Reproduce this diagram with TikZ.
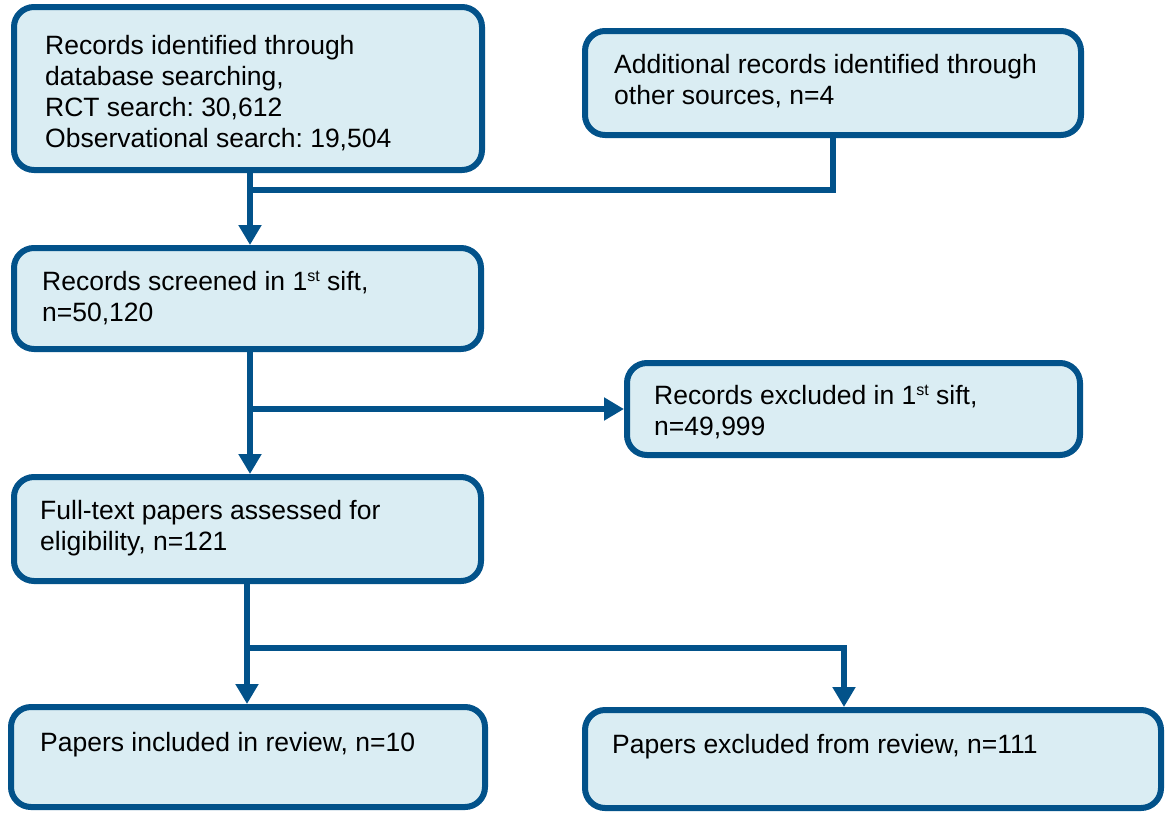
\documentclass[tikz,border=0pt]{standalone}
\usepackage{fontspec}
\setmainfont{Liberation Sans}
\usetikzlibrary{arrows.meta}
\definecolor{bordercol}{RGB}{2,82,138}
\definecolor{fillcol}{RGB}{218,237,243}
\newcommand{\supst}{\raisebox{0.33em}{\fontsize{16}{16}\selectfont st}}
\tikzset{
  box/.style={draw=bordercol, fill=fillcol, line width=6pt, rounded corners=20pt, rectangle, inner sep=0pt},
  txt/.style={anchor=base west, align=left, inner sep=0pt, font=\fontsize{26.5}{31}\selectfont\frenchspacing, text=black},
  conn/.style={draw=bordercol, line width=6pt},
  arr/.style={conn, -{Triangle[length=20pt,width=22pt]}}
}
\begin{document}
\begin{tikzpicture}[x=1pt,y=-1pt]
\useasboundingbox (0,0) rectangle (1167,812);
% boxes
\node[box, minimum width=468pt, minimum height=163pt] (b1) at (248,88.5) {};
\node[box, minimum width=496pt, minimum height=104pt] (b2) at (833,83) {};
\node[box, minimum width=467pt, minimum height=101pt] (b3) at (247.5,298.5) {};
\node[box, minimum width=453pt, minimum height=92pt] (b4) at (853.5,409) {};
\node[box, minimum width=467pt, minimum height=104pt] (b5) at (247.5,529) {};
\node[box, minimum width=474pt, minimum height=100pt] (b6) at (248,757) {};
\node[box, minimum width=576pt, minimum height=98pt] (b7) at (873,759) {};
% texts (anchored at the baseline of their last line)
\node[txt] (t1) at (45,147) {Records identified through\\database searching,\\RCT search: 30,612\\Observational search: 19,504};
\node[txt] (t2) at (614,104) {Additional records identified through\\other sources, n=4};
\node[txt] (t3) at (42,321) {Records screened in 1\supst{} sift,\\n=50,120};
\node[txt] (t4) at (654,435) {Records excluded in 1\supst{} sift,\\n=49,999};
\node[txt] (t5) at (40,550) {Full-text papers assessed for\\eligibility, n=121};
\node[txt] (t6) at (40,751) {Papers included in review, n=10};
\node[txt] (t7) at (612,753) {Papers excluded from review, n=111};
% connectors
\coordinate (j1) at (250,190);
\coordinate (j2) at (250,409);
\coordinate (j3) at (247,648);
\coordinate (j4) at (844,648);
\draw[conn] (b2.south) |- (j1);
\draw[arr] (b1.south -| j1) -- (b3.north -| j1);
\draw[arr] (j2) -- (j2 -| b4.west);
\draw[arr] (b3.south -| j2) -- (b5.north -| j2);
\draw[conn] (b5.south -| j3) -- (j3);
\draw[arr] (j3) -- (j4) -- (b7.north -| j4);
\draw[arr] (j3) -- (b6.north -| j3);
\end{tikzpicture}
\end{document}
